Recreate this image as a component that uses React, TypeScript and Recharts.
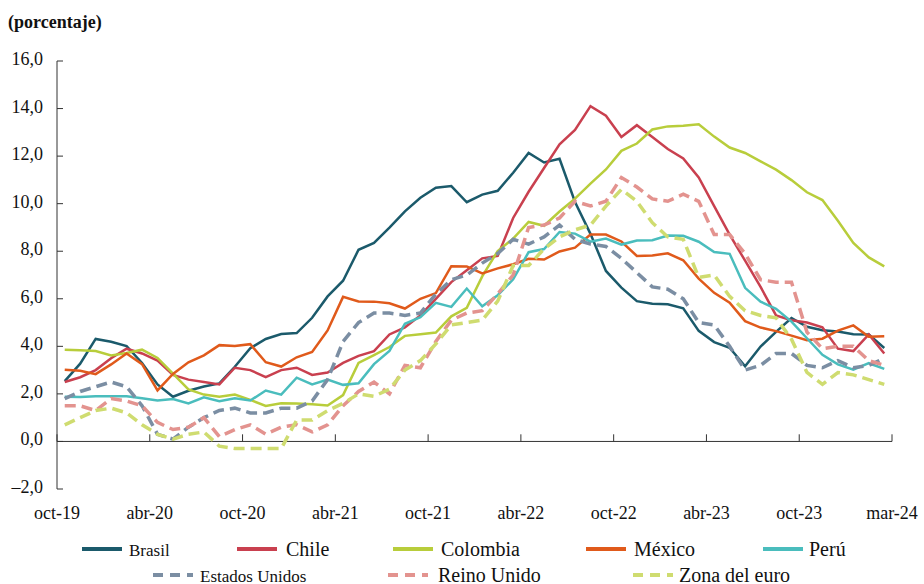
import { LineChart, Line, XAxis, YAxis, ReferenceLine } from 'recharts';

const FONT = '"Liberation Serif", serif';

// oct-19 .. mar-24, monthly
const MES = ['ene', 'feb', 'mar', 'abr', 'may', 'jun', 'jul', 'ago', 'sep', 'oct', 'nov', 'dic'];
const months: string[] = [];
for (let k = 0; k < 54; k++) {
  const m = (9 + k) % 12;
  const y = 19 + Math.floor((9 + k) / 12);
  months.push(`${MES[m]}-${y}`);
}

const brasil = [2.54, 3.27, 4.31, 4.19, 4.01, 3.3, 2.4, 1.88, 2.13, 2.31, 2.44, 3.14, 3.92, 4.31, 4.52, 4.56, 5.2, 6.1, 6.76, 8.06, 8.35, 8.99, 9.68, 10.25, 10.67, 10.74, 10.06, 10.38, 10.54, 11.3, 12.13, 11.73, 11.89, 10.07, 8.73, 7.17, 6.47, 5.9, 5.79, 5.77, 5.6, 4.65, 4.18, 3.94, 3.16, 3.99, 4.61, 5.19, 4.82, 4.68, 4.62, 4.51, 4.5, 3.93];
const chile = [2.5, 2.7, 3.0, 3.5, 3.9, 3.7, 3.4, 2.8, 2.6, 2.5, 2.4, 3.1, 3.0, 2.7, 3.0, 3.1, 2.8, 2.9, 3.3, 3.6, 3.8, 4.5, 4.8, 5.3, 6.0, 6.7, 7.2, 7.7, 7.8, 9.4, 10.5, 11.5, 12.5, 13.1, 14.1, 13.7, 12.8, 13.3, 12.8, 12.3, 11.9, 11.1, 9.9, 8.7, 7.6, 6.5, 5.3, 5.1, 5.0, 4.8, 3.9, 3.8, 4.5, 3.7];
const colombia = [3.86, 3.84, 3.8, 3.62, 3.72, 3.86, 3.51, 2.85, 2.19, 1.97, 1.88, 1.97, 1.75, 1.49, 1.61, 1.6, 1.56, 1.51, 1.95, 3.3, 3.63, 3.97, 4.44, 4.51, 4.58, 5.26, 5.62, 6.94, 8.01, 8.53, 9.23, 9.07, 9.67, 10.21, 10.84, 11.44, 12.22, 12.53, 13.12, 13.25, 13.28, 13.34, 12.82, 12.36, 12.13, 11.78, 11.43, 10.99, 10.48, 10.15, 9.28, 8.35, 7.74, 7.36];
const mexico = [3.02, 2.97, 2.83, 3.24, 3.7, 3.25, 2.15, 2.84, 3.33, 3.62, 4.05, 4.01, 4.09, 3.33, 3.15, 3.54, 3.76, 4.67, 6.08, 5.89, 5.88, 5.81, 5.59, 6.0, 6.24, 7.37, 7.36, 7.07, 7.28, 7.45, 7.68, 7.65, 7.99, 8.15, 8.7, 8.7, 8.41, 7.8, 7.82, 7.91, 7.62, 6.85, 6.25, 5.84, 5.06, 4.79, 4.64, 4.45, 4.26, 4.32, 4.66, 4.88, 4.4, 4.42];
const peru = [1.88, 1.87, 1.9, 1.9, 1.9, 1.82, 1.72, 1.78, 1.6, 1.86, 1.69, 1.82, 1.72, 2.14, 1.97, 2.68, 2.4, 2.6, 2.38, 2.45, 3.25, 3.81, 4.95, 5.23, 5.83, 5.66, 6.43, 5.68, 6.15, 6.82, 7.96, 8.09, 8.81, 8.74, 8.4, 8.53, 8.28, 8.45, 8.46, 8.66, 8.65, 8.4, 7.97, 7.89, 6.46, 5.88, 5.58, 5.04, 4.34, 3.64, 3.24, 3.02, 3.29, 3.05];
const eeuu = [1.8, 2.1, 2.3, 2.5, 2.3, 1.5, 0.3, 0.1, 0.6, 1.0, 1.3, 1.4, 1.2, 1.2, 1.4, 1.4, 1.7, 2.6, 4.2, 5.0, 5.4, 5.4, 5.3, 5.4, 6.2, 6.8, 7.0, 7.5, 7.9, 8.5, 8.3, 8.6, 9.1, 8.5, 8.3, 8.2, 7.7, 7.1, 6.5, 6.4, 6.0, 5.0, 4.9, 4.0, 3.0, 3.2, 3.7, 3.7, 3.2, 3.1, 3.4, 3.1, 3.2, 3.5];
const reinoUnido = [1.5, 1.5, 1.3, 1.8, 1.7, 1.5, 0.8, 0.5, 0.6, 1.0, 0.2, 0.5, 0.7, 0.3, 0.6, 0.7, 0.4, 0.7, 1.5, 2.1, 2.5, 2.0, 3.2, 3.1, 4.2, 5.1, 5.4, 5.5, 6.2, 7.0, 9.0, 9.1, 9.4, 10.1, 9.9, 10.1, 11.1, 10.7, 10.2, 10.1, 10.4, 10.1, 8.7, 8.7, 7.9, 6.8, 6.7, 6.7, 4.6, 3.9, 4.0, 4.0, 3.4, 3.2];
const zonaEuro = [0.7, 1.0, 1.3, 1.4, 1.2, 0.7, 0.3, 0.1, 0.3, 0.4, -0.2, -0.3, -0.3, -0.3, -0.3, 0.9, 0.9, 1.3, 1.6, 2.0, 1.9, 2.2, 3.0, 3.4, 4.1, 4.9, 5.0, 5.1, 5.9, 7.4, 7.4, 8.1, 8.6, 8.9, 9.1, 9.9, 10.6, 10.1, 9.2, 8.6, 8.5, 6.9, 7.0, 6.1, 5.5, 5.3, 5.2, 4.3, 2.9, 2.4, 2.9, 2.8, 2.6, 2.4];

const xTickLabels = ['oct-19', 'abr-20', 'oct-20', 'abr-21', 'oct-21', 'abr-22', 'oct-22', 'abr-23', 'oct-23', 'mar-24'];
const xTicks = xTickLabels.map((_, k) => k * 6 - 0.5);
const yTicks = [-2, 0, 2, 4, 6, 8, 10, 12, 14, 16];

const series = [
  { key: 'brasil', name: 'Brasil', color: '#1B5A6B', dashed: false },
  { key: 'chile', name: 'Chile', color: '#C9404F', dashed: false },
  { key: 'colombia', name: 'Colombia', color: '#B8CD3B', dashed: false },
  { key: 'mexico', name: 'México', color: '#E05A1B', dashed: false },
  { key: 'peru', name: 'Perú', color: '#4ABDBD', dashed: false },
  { key: 'eeuu', name: 'Estados Unidos', color: '#7B8EA3', dashed: true },
  { key: 'reinoUnido', name: 'Reino Unido', color: '#E3938F', dashed: true },
  { key: 'zonaEuro', name: 'Zona del euro', color: '#CFDC70', dashed: true }
];

const data = months.map((m, i) => ({
  i,
  month: m,
  brasil: brasil[i],
  chile: chile[i],
  colombia: colombia[i],
  mexico: mexico[i],
  peru: peru[i],
  eeuu: eeuu[i],
  reinoUnido: reinoUnido[i],
  zonaEuro: zonaEuro[i]
}));

const fmt = (v: number) => (v < 0 ? '–' : '') + Math.abs(v).toFixed(1).replace('.', ',');

const css = `
  .serif-chart text, .serif-chart tspan { font-family: "Liberation Serif", serif !important; }
`;

function XTick(props: any) {
  const { x, y, payload } = props;
  const idx = xTicks.indexOf(payload.value);
  return (
    <text x={x} y={y + 22} textAnchor="middle" fontSize={18} fill="#111" fontFamily={FONT}>
      {xTickLabels[idx]}
    </text>
  );
}

function YTick(props: any) {
  const { x, y, payload } = props;
  return (
    <g>
      <line x1={x + 14} x2={x + 20} y1={y} y2={y} stroke="#333" strokeWidth={1} />
      <text x={x} y={y + 4} textAnchor="end" fontSize={18} fill="#111" fontFamily={FONT}>
        {fmt(payload.value)}
      </text>
    </g>
  );
}

// legend layout: [x of line start, x of text, row, font size]
const legendPos: Record<string, [number, number, number, number]> = {
  brasil: [82, 129, 0, 17],
  chile: [237, 286, 0, 20],
  colombia: [393, 441, 0, 20],
  mexico: [586, 634, 0, 20],
  peru: [763, 809, 0, 20],
  eeuu: [153, 200, 1, 17],
  reinoUnido: [388, 438, 1, 20],
  zonaEuro: [633, 679, 1, 20]
};

function Legend2() {
  return (
    <svg width={924} height={584} style={{ position: 'absolute', left: 0, top: 0, pointerEvents: 'none' }}>
      {series.map((s) => {
        const [lx, tx, row, fs] = legendPos[s.key];
        const cy = row === 0 ? 549 : 575;
        return (
          <g key={s.key}>
            <line
              x1={lx}
              x2={lx + 40}
              y1={cy}
              y2={cy}
              stroke={s.color}
              strokeWidth={4}
              strokeDasharray={s.dashed ? '10 7' : undefined}
            />
            <text x={tx} y={cy + 6.5} fontSize={fs} fill="#111" fontFamily={FONT}>
              {s.name}
            </text>
          </g>
        );
      })}
    </svg>
  );
}

export default function App() {
  return (
    <div className="serif-chart" style={{ position: 'absolute', left: 0, top: 0, width: 924, height: 584, background: '#fff' }}>
      <style>{css}</style>
      <svg width={924} height={40} style={{ position: 'absolute', left: 0, top: 0 }}>
        <text x={8} y={28} fontSize={18} fontWeight="bold" fill="#111" fontFamily={FONT}>
          (porcentaje)
        </text>
      </svg>
      <div style={{ position: 'absolute', left: 0, top: 0 }}>
        <LineChart width={924} height={584} data={data} margin={{ top: 61, right: 32, bottom: 65, left: 12 }}>
          <XAxis
            type="number"
            dataKey="i"
            domain={[-0.5, 53.5]}
            ticks={xTicks}
            interval={0}
            axisLine={false}
            tickLine={false}
            height={30}
            tick={XTick}
          />
          <YAxis
            type="number"
            domain={[-2, 16]}
            ticks={yTicks}
            interval={0}
            width={45}
            tickMargin={8}
            axisLine={{ stroke: '#333', strokeWidth: 1 }}
            tickLine={false}
            tick={YTick}
          />
          <ReferenceLine y={0} stroke="#333" strokeWidth={1} />
          {xTicks.map((t) => (
            <ReferenceLine
              key={t}
              segment={[
                { x: t, y: 0 },
                { x: t, y: 0.3 }
              ]}
              stroke="#333"
              strokeWidth={1}
            />
          ))}
          {series.map((s) => (
            <Line
              key={s.key}
              type="linear"
              dataKey={s.key}
              stroke={s.color}
              strokeWidth={s.dashed ? 3.5 : 2.5}
              strokeDasharray={s.dashed ? '11 6' : undefined}
              dot={false}
              activeDot={false}
              isAnimationActive={false}
            />
          ))}
        </LineChart>
      </div>
      <Legend2 />
    </div>
  );
}
